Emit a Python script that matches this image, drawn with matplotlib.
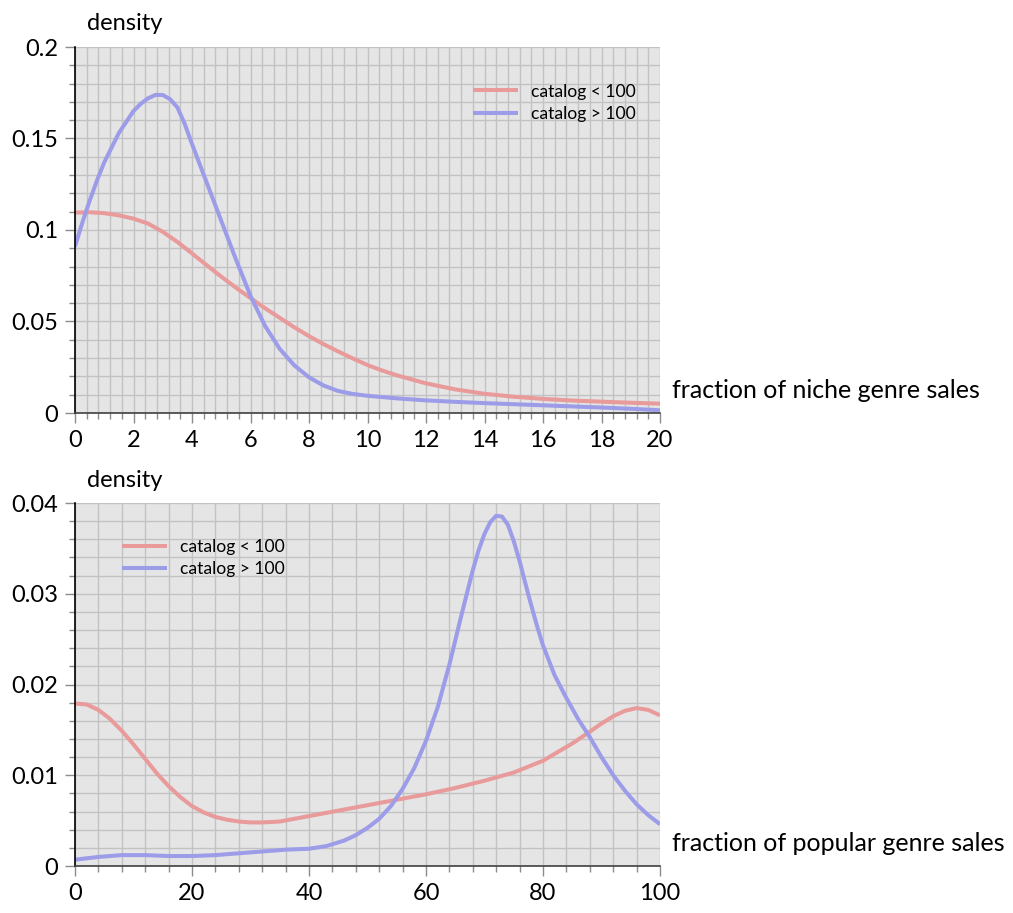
import matplotlib
matplotlib.use('Agg')
import matplotlib.pyplot as plt
from matplotlib.ticker import MultipleLocator, FuncFormatter

plt.rcParams['font.family'] = ['Lato', 'DejaVu Sans']

# ---- top panel: fraction of niche genre sales ----
niche_x_small = [0, 0.5, 1, 1.5, 2, 2.5, 3, 3.5, 4, 4.5, 5, 5.5, 6, 6.5, 7, 7.5, 8, 8.5, 9, 9.5,
                 10, 10.5, 11, 12, 13, 14, 15, 16, 17, 18, 19, 20]
niche_small = [0.1095, 0.1097, 0.1092, 0.1080, 0.1062, 0.1035, 0.0990, 0.0935, 0.0872, 0.0808,
               0.0745, 0.0685, 0.0628, 0.0572, 0.0520, 0.0468, 0.0420, 0.0376, 0.0336, 0.0298,
               0.0262, 0.0232, 0.0206, 0.0162, 0.0129, 0.0105, 0.0089, 0.0077, 0.0068, 0.0062,
               0.0056, 0.0051]

niche_x_large = [0, 0.25, 0.5, 0.75, 1, 1.5, 2, 2.25, 2.5, 2.75, 3, 3.25, 3.5, 3.75, 4, 4.5, 5,
                 5.5, 6, 6.5, 7, 7.5, 8, 8.5, 9, 9.5, 10, 11, 12, 13, 14, 15, 16, 17, 18, 19, 20]
niche_large = [0.091, 0.104, 0.116, 0.127, 0.137, 0.153, 0.165, 0.169, 0.1720, 0.1738, 0.1738,
               0.1715, 0.1670, 0.1580, 0.1470, 0.1260, 0.1050, 0.0840, 0.0640, 0.0475, 0.0350,
               0.0260, 0.0195, 0.0150, 0.0120, 0.0104, 0.0094, 0.0080, 0.0069, 0.0061, 0.0054,
               0.0048, 0.0042, 0.0036, 0.0030, 0.0023, 0.0015]

# ---- bottom panel: fraction of popular genre sales ----
pop_x_small = [0, 2, 4, 6, 8, 10, 12, 14, 16, 18, 20, 22, 24, 26, 28, 30, 32, 35, 40, 45, 50, 55,
               60, 65, 70, 75, 80, 85, 88, 90, 92, 94, 96, 98, 100]
pop_small = [0.0179, 0.0178, 0.0172, 0.0162, 0.0149, 0.0134, 0.0118, 0.0102, 0.0088, 0.0076,
             0.0066, 0.0059, 0.0054, 0.0051, 0.0049, 0.0048, 0.0048, 0.0049, 0.0055, 0.0061,
             0.0067, 0.0073, 0.0079, 0.0086, 0.0094, 0.0103, 0.0116, 0.0135, 0.0148, 0.0157,
             0.0165, 0.0171, 0.0174, 0.0172, 0.0166]

pop_x_large = [0, 4, 8, 12, 16, 20, 24, 28, 32, 36, 40, 43, 46, 48, 50, 52, 54, 56, 58, 60, 62, 64,
               66, 68, 69, 70, 71, 72, 73, 74, 75, 76, 77, 78, 79, 80, 82, 84, 86, 88, 90, 92, 94,
               96, 98, 100]
pop_large = [0.0007, 0.0010, 0.0012, 0.0012, 0.0011, 0.0011, 0.0012, 0.0014, 0.0016, 0.0018,
             0.0019, 0.0022, 0.0028, 0.0034, 0.0042, 0.0052, 0.0066, 0.0085, 0.0108, 0.0138,
             0.0175, 0.0222, 0.0275, 0.0326, 0.0348, 0.0366, 0.0379, 0.0386, 0.0385, 0.0376,
             0.0358, 0.0336, 0.0311, 0.0287, 0.0264, 0.0243, 0.0210, 0.0185, 0.0162, 0.0142,
             0.0120, 0.0100, 0.0083, 0.0068, 0.0056, 0.0046]

labels = ['catalog < 100', 'catalog > 100']
RED = '#e99a9a'
BLUE = '#9c9ce9'

fig = plt.figure(figsize=(10.13, 9.13), dpi=100)
W, H = 1013, 913
ax1 = fig.add_axes([75 / W, 1 - 413 / H, 585 / W, 366 / H])
ax2 = fig.add_axes([75 / W, 1 - 866 / H, 585 / W, 363 / H])


def fmt(v, pos):
    if abs(v) < 1e-12:
        return '0'
    return ('%.4f' % v).rstrip('0').rstrip('.')


def style(ax, xmax, xmaj, xmin, ymax, ymaj, ymin):
    ax.set_facecolor('#e5e5e5')
    ax.set_xlim(0, xmax)
    ax.set_ylim(0, ymax)
    ax.xaxis.set_major_locator(MultipleLocator(xmaj))
    ax.xaxis.set_minor_locator(MultipleLocator(xmin))
    ax.yaxis.set_major_locator(MultipleLocator(ymaj))
    ax.yaxis.set_minor_locator(MultipleLocator(ymin))
    ax.yaxis.set_major_formatter(FuncFormatter(fmt))
    ax.xaxis.set_major_formatter(FuncFormatter(fmt))
    ax.grid(which='both', color='#c2c2c2', linewidth=1.0)
    ax.set_axisbelow(True)
    for s in ['top', 'right']:
        ax.spines[s].set_visible(False)
    ax.spines['left'].set_color('black')
    ax.spines['left'].set_linewidth(1.2)
    ax.spines['bottom'].set_color('#404040')
    ax.spines['bottom'].set_linewidth(1.2)
    ax.tick_params(which='major', length=7.2, width=1, color='#8c8c8c', labelsize=17, pad=5)
    ax.tick_params(which='minor', length=4.3, width=1, color='#8c8c8c')


style(ax1, 20, 2, 0.4, 0.2, 0.05, 0.01)
style(ax2, 100, 20, 4, 0.04, 0.01, 0.002)

line_kw = dict(lw=2.9, solid_capstyle='butt', solid_joinstyle='round')
ax1.plot(niche_x_small, niche_small, color=RED, label=labels[0], **line_kw)
ax1.plot(niche_x_large, niche_large, color=BLUE, label=labels[1], **line_kw)
ax2.plot(pop_x_small, pop_small, color=RED, label=labels[0], **line_kw)
ax2.plot(pop_x_large, pop_large, color=BLUE, label=labels[1], **line_kw)

leg_kw = dict(frameon=False, fontsize=12.6, handlelength=2.6, handletextpad=0.7,
              labelspacing=0.35, borderpad=0, borderaxespad=0, loc='upper left')
ax1.legend(bbox_to_anchor=(0.680, 0.900), **leg_kw)
ax2.legend(bbox_to_anchor=(0.080, 0.900), **leg_kw)

fig.text(87 / W, 1 - 24 / H, 'density', ha='left', va='center', fontsize=17)
fig.text(87 / W, 1 - 480 / H, 'density', ha='left', va='center', fontsize=17)
fig.text(672 / W, 1 - 390 / H, 'fraction of niche genre sales', ha='left', va='center', fontsize=18)
fig.text(672 / W, 1 - 843 / H, 'fraction of popular genre sales', ha='left', va='center', fontsize=18)

fig.savefig('out.png', dpi=100)
